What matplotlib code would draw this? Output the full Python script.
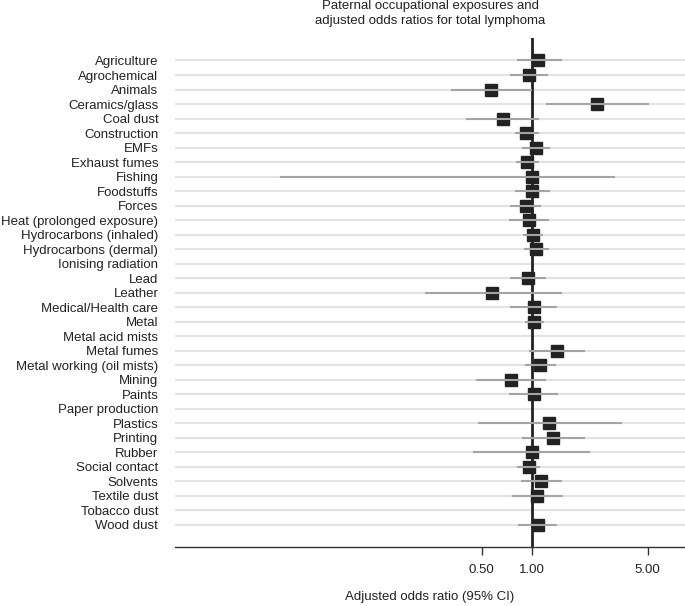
import numpy as np
import matplotlib
matplotlib.use("Agg")
from matplotlib import pyplot as plt

plt.rcParams['font.family'] = ['Liberation Sans', 'DejaVu Sans']

exposures = ["Agriculture", "Agrochemical", "Animals", "Ceramics/glass", "Coal dust",
             "Construction", "EMFs", "Exhaust fumes", "Fishing", "Foodstuffs", "Forces",
             "Heat (prolonged exposure)", "Hydrocarbons (inhaled)", "Hydrocarbons (dermal)",
             "Ionising radiation", "Lead", "Leather", "Medical/Health care", "Metal",
             "Metal acid mists", "Metal fumes", "Metal working (oil mists)", "Mining",
             "Paints", "Paper production", "Plastics", "Printing", "Rubber",
             "Social contact", "Solvents", "Textile dust", "Tobacco dust", "Wood dust"]

# odds ratios and 95% CI (nan = not estimated)
odds = [1.09, 0.96, 0.57, 2.47, 0.67, 0.93, 1.06, 0.94, 1.00, 1.01, 0.92, 0.97, 1.02, 1.06,
        np.nan, 0.95, 0.58, 1.03, 1.04, np.nan, 1.42, 1.12, 0.75, 1.03, np.nan, 1.28, 1.34,
        1.00, 0.96, 1.14, 1.08, np.nan, 1.09]
ci_low = [0.83, 0.75, 0.33, 1.23, 0.41, 0.80, 0.89, 0.82, 0.031, 0.80, 0.75, 0.74, 0.90, 0.91,
          np.nan, 0.75, 0.23, 0.75, 0.93, np.nan, 0.98, 0.93, 0.47, 0.74, np.nan, 0.48, 0.89,
          0.45, 0.83, 0.87, 0.77, np.nan, 0.84]
ci_high = [1.50, 1.24, 0.99, 5.03, 1.10, 1.09, 1.28, 1.10, 3.13, 1.28, 1.13, 1.25, 1.15, 1.25,
           np.nan, 1.20, 1.50, 1.41, 1.17, np.nan, 2.08, 1.38, 1.20, 1.43, np.nan, 3.48, 2.06,
           2.23, 1.11, 1.50, 1.52, np.nan, 1.40]

xticks = [0.5, 1.0, 5.0]
xtick_labels = ["0.50", "1.00", "5.00"]

fig = plt.figure(figsize=(6.85, 6.06), dpi=100)
ax = fig.add_axes([175/685, 59/606, 510/685, 509/606])

rows = np.arange(len(exposures))
for y in rows:
    ax.axhline(y, color='#e3e3e3', lw=1.5, zorder=1)

ax.axvline(1.0, color='#222222', lw=2, zorder=2)

for y, o, lo, hi in zip(rows, odds, ci_low, ci_high):
    if np.isnan(o):
        continue
    ax.plot(o, y, marker='s', ms=9, color='#222222', mec='#222222', zorder=3)
    ax.plot([lo, hi], [y, y], color='#a4a4a4', lw=1.5, zorder=4)

ax.set_xscale('log')
ax.set_xlim(0.0071, 8.4)
ax.set_ylim(len(exposures) - 1 + 1.52, -1.55)
ax.set_yticks(rows)
ax.set_yticklabels(exposures, fontsize=9.5, color='#222222')
ax.tick_params(axis='y', length=0, pad=12)
ax.set_xticks(xticks)
ax.set_xticklabels(xtick_labels, fontsize=9.5, color='#222222')
ax.xaxis.set_minor_locator(matplotlib.ticker.NullLocator())
ax.tick_params(axis='x', length=6, width=1, color='#333333', pad=6)

for s in ['top', 'right', 'left']:
    ax.spines[s].set_visible(False)
ax.spines['bottom'].set_color('#333333')
ax.spines['bottom'].set_linewidth(1)

ax.set_xlabel("Adjusted odds ratio (95% CI)", fontsize=9.5, color='#222222', labelpad=11)
fig.text(430/685, 1 - 0/606, "Paternal occupational exposures and\nadjusted odds ratios for total lymphoma",
         ha='center', va='top', fontsize=9.5, color='#222222', linespacing=1.3)

fig.savefig("out.png", dpi=100)
